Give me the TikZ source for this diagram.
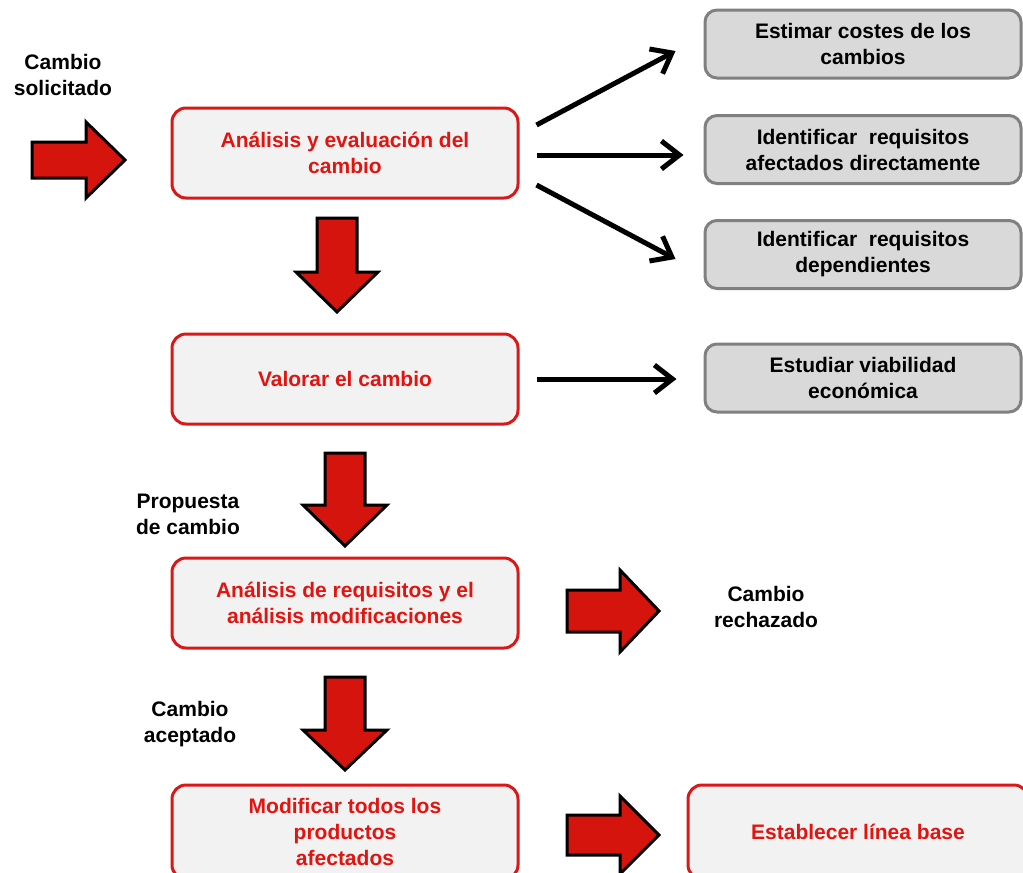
\documentclass[tikz,border=0pt]{standalone}
\usepackage{fontspec}
\setmainfont{Liberation Sans}
\usetikzlibrary{arrows.meta,calc}
\definecolor{boxred}{RGB}{218,24,24}
\definecolor{txtred}{RGB}{226,20,16}
\definecolor{arrred}{RGB}{214,20,14}
\definecolor{boxfill}{RGB}{242,242,242}
\definecolor{grayfill}{RGB}{217,217,217}
\definecolor{grayline}{RGB}{128,128,128}
\newcommand\myRarrow[6]{\draw[blockarrow] (#1,#4-#5) -- (#2,#4-#5) -- (#2,#4-#6) -- (#3,#4) -- (#2,#4+#6) -- (#2,#4+#5) -- (#1,#4+#5) -- cycle;}
\newcommand\myDarrow[6]{\draw[blockarrow] (#1-#5,#2) -- (#1+#5,#2) -- (#1+#5,#3) -- (#1+#6,#3) -- (#1,#4) -- (#1-#6,#3) -- (#1-#5,#3) -- cycle;}
\tikzset{
  txt/.style={font=\bfseries\fontsize{21}{26}\selectfont, align=center},
  redbox/.style={txt, draw=boxred, line width=3pt, fill=boxfill, rounded corners=14pt,
    minimum width=346pt, minimum height=90pt, text=txtred, inner sep=0pt},
  graybox/.style={txt, draw=grayline, line width=3pt, fill=grayfill, rounded corners=12pt,
    minimum width=316pt, minimum height=68pt, inner sep=0pt},
  lbl/.style={txt},
  conn/.style={line width=5pt, -{Straight Barb[length=18pt,width=28pt]}},
  blockarrow/.style={draw=black, line width=3pt, fill=arrred, line join=miter},
}
\begin{document}
\begin{tikzpicture}[x=1pt,y=-1pt]
\useasboundingbox (0,0) rectangle (1023,873);
\clip (0,0) rectangle (1023,873);
% red process boxes
\node[redbox] (b1) at (345,153) {Análisis y evaluación del\\cambio};
\node[redbox] (b2) at (345,379) {Valorar el cambio};
\node[redbox] (b3) at (345,603) {Análisis de requisitos y el\\análisis modificaciones};
\node[redbox, minimum height=94pt] (b4) at (345,832) {Modificar todos los\\productos\\afectados};
\node[redbox, minimum width=340pt, minimum height=94pt] (b5) at (858,832) {Establecer línea base};
% gray boxes
\node[graybox] (g1) at (863,44) {Estimar costes de los\\cambios};
\node[graybox] (g2) at (863,149.5) {Identificar\ \ requisitos\\afectados directamente};
\node[graybox] (g3) at (863,254.5) {Identificar\ \ requisitos\\dependientes};
\node[graybox] (g4) at (863,378) {Estudiar viabilidad\\económica};
% labels
\node[lbl] (l1) at (63,75) {Cambio\\solicitado};
\node[lbl] (l2) at (188,514) {Propuesta\\de cambio};
\node[lbl] (l3) at (190,724) {Cambio\\aceptado};
\node[lbl] (l4) at (766,607) {Cambio\\rechazado};
% connectors
\draw[conn] ($(b1.east)+(17,-28)$) -- ($(g1.west)+(-28,7)$);
\draw[conn] ($(b1.east)+(17,2)$) -- ($(g2.west)+(-20,5.5)$);
\draw[conn] ($(b1.east)+(17,32)$) -- ($(g3.west)+(-28,4.5)$);
\draw[conn] ($(b2.east)+(17,0)$) -- ($(g4.west)+(-27,1)$);
% block arrows
\myRarrow{32}{86}{125}{160}{18}{38}
\myRarrow{567}{620}{659}{611}{21}{41}
\myRarrow{567}{620}{659}{835}{20}{39}
\myDarrow{337}{218}{272}{312}{20}{41}
\myDarrow{345}{453}{505}{546}{20}{42}
\myDarrow{345}{677}{730}{770}{20}{42}
\end{tikzpicture}
\end{document}
